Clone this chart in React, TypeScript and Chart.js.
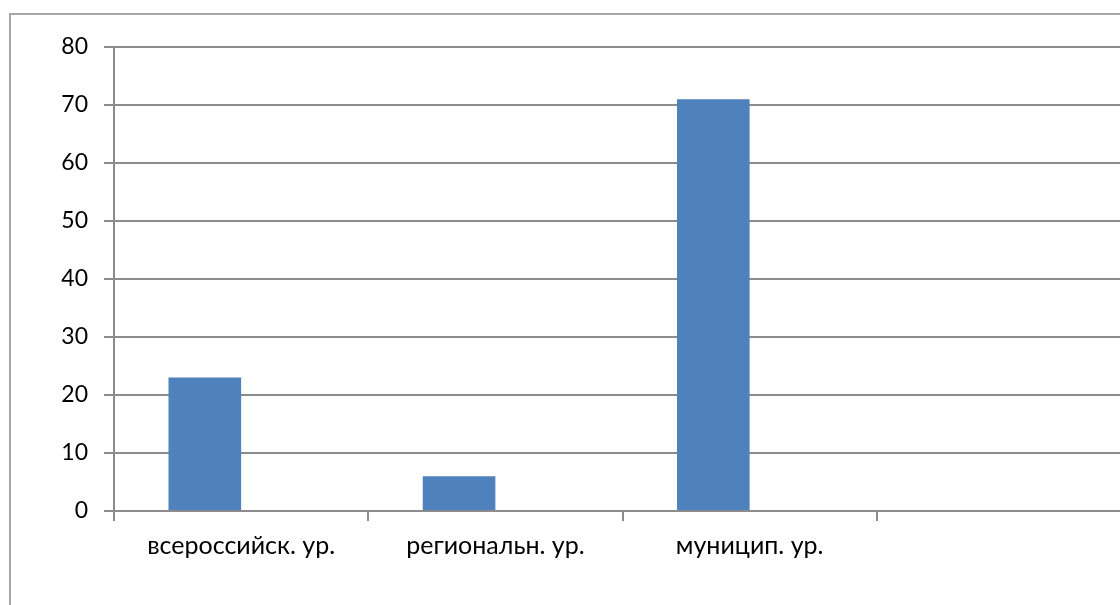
import React, { useEffect, useRef } from "react";
import { Chart, registerables } from "chart.js";

Chart.register(...registerables);

const categories = ["всероссийск. ур.", "региональн. ур.", "муницип. ур.", ""];
const series1 = [23, 6, 71, null];
const series2 = [null, null, null, null];
const yTicks = { min: 0, max: 80, step: 10 };

export default function App() {
  const ref = useRef<HTMLCanvasElement | null>(null);
  useEffect(() => {
    const canvas = ref.current;
    if (!canvas) return;
    const grey = "#8c8c8c";
    const chart = new Chart(canvas, {
      type: "bar",
      data: {
        labels: categories,
        datasets: [
          { label: "Ряд 1", data: series1 as any, backgroundColor: "#4f81bd", borderWidth: 0 },
          { label: "Ряд 2", data: series2 as any, backgroundColor: "#c0504d", borderWidth: 0 },
        ],
      },
      options: {
        animation: false,
        responsive: false,
        devicePixelRatio: 1,
        layout: { padding: { left: 0, top: 47, right: 9, bottom: 0 } },
        plugins: { legend: { display: false }, tooltip: { enabled: false } },
        datasets: { bar: { categoryPercentage: 2 / 3.5, barPercentage: 1 } },
        scales: {
          x: {
            grid: {
              offset: true,
              drawOnChartArea: false,
              drawTicks: true,
              tickLength: 10,
              color: grey,
              lineWidth: 2,
            },
            border: { color: grey, width: 2 },
            ticks: {
              color: "#000",
              font: { family: "Lato, 'Open Sans', sans-serif", size: 25 },
              padding: 10,
              maxRotation: 0,
              autoSkip: false,
            },
            afterFit: (scale: any) => {
              scale.height = 605 - 511;
            },
          },
          y: {
            min: yTicks.min,
            max: yTicks.max,
            grid: { color: grey, lineWidth: 2, tickLength: 10, drawTicks: true },
            border: { color: grey, width: 2 },
            ticks: {
              stepSize: yTicks.step,
              color: "#000",
              font: { family: "Lato, 'Open Sans', sans-serif", size: 23 },
              padding: 16,
            },
            afterFit: (scale: any) => {
              scale.width = 114;
            },
          },
        },
      },
    });
    return () => chart.destroy();
  }, []);
  return (
    <div
      style={{
        position: "fixed",
        left: 0,
        top: 0,
        width: 1120,
        height: 605,
        overflow: "hidden",
        background: "#fff",
      }}
    >
      <div
        style={{
          position: "absolute",
          left: 9,
          top: 13,
          width: 1200,
          height: 700,
          border: "2px solid #a6a6a6",
          boxSizing: "border-box",
        }}
      />
      <canvas
        ref={ref}
        width={1140}
        height={605}
        style={{ position: "absolute", left: 0, top: 0, width: 1140, height: 605 }}
      />
    </div>
  );
}
